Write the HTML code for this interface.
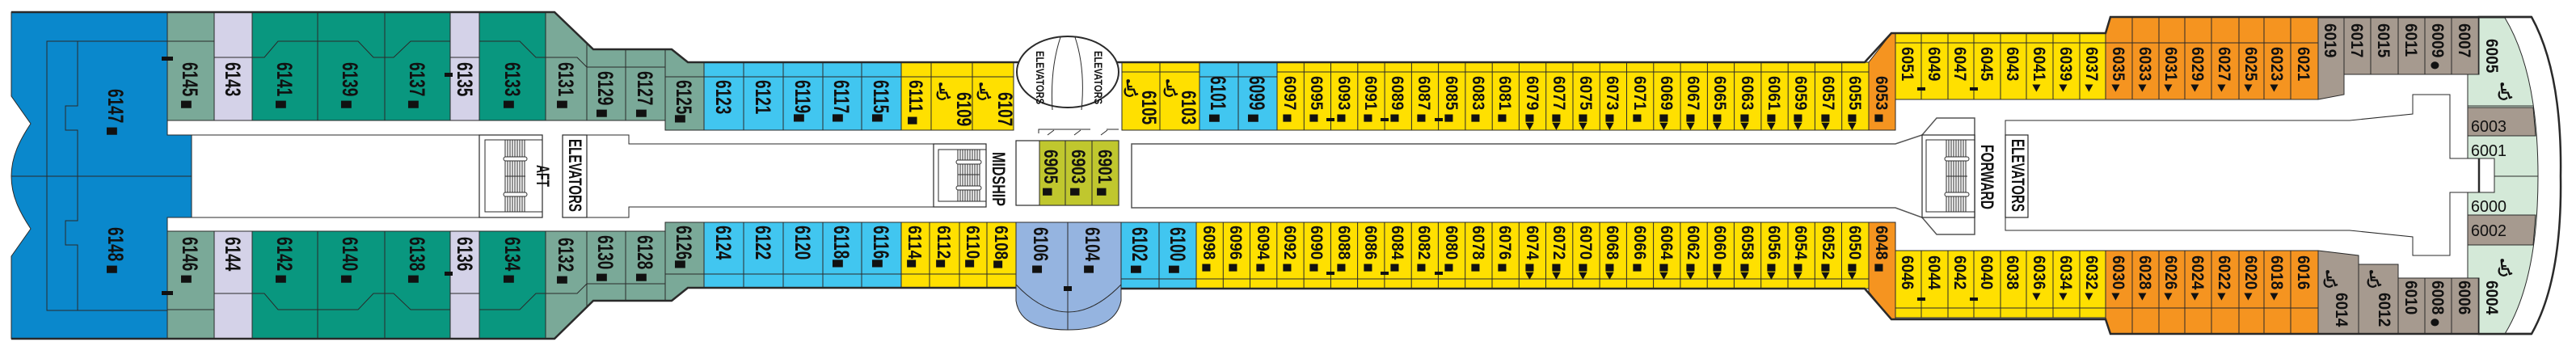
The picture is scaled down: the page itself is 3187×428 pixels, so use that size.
<!DOCTYPE html>
<html><head><meta charset="utf-8"><style>
html,body{margin:0;padding:0;background:#fff;}
svg{display:block}
.c rect,.c polygon,.c path{stroke:#2a2a2a;stroke-width:1}
.bl{fill:#0a88cc}.gg{fill:#7aa998}.lv{fill:#d4d2e8}.tl{fill:#09977f}.lb{fill:#41c6f0}.ye{fill:#ffe000}.or{fill:#f59420}.gr{fill:#a69a8f}.bg{fill:#d4e9d8}.ol{fill:#c0c72e}.pu{fill:#95b4e0}
.ln{fill:none;stroke:#2a2a2a;stroke-width:1}
.hl{fill:none;stroke:#2a2a2a;stroke-width:2.5}
.wb{fill:#fff;stroke:#2a2a2a;stroke-width:1.2}
text{font-family:"Liberation Sans","DejaVu Sans",sans-serif;font-weight:bold;fill:#111}
.n{font-size:19px}
.s{font-size:12px;font-family:"DejaVu Sans",sans-serif}
.w{font-size:30px;font-family:"DejaVu Sans",sans-serif;font-weight:bold}
.h{font-size:20px;font-weight:normal}
.l{font-size:14px}
</style></head><body>
<svg width="3187" height="428" viewBox="0 0 3187 428" xmlns="http://www.w3.org/2000/svg">
<rect width="3187" height="428" fill="#fff"/>

<g class="c">
<path class="bl" d="M14,15 L207,15 L207,167 L237,167 L237,269 L207,269 L207,419 L14,419 L14,317 L38,283 C24,262 14,242 14,218 C14,194 24,174 38,153 L14,119 Z"/>
</g>
<path class="ln" d="M207,51 H58 V384 H207 M96,51 V131 H81 V161 H96 V273 H81 V303 H96 V384 M14,218 H237"/>

<g class="c">
<rect class="gg" x="207" y="15" width="58" height="134"/>
<rect class="lv" x="265" y="15" width="47" height="134"/>
<rect class="tl" x="312" y="15" width="81" height="134"/>
<rect class="tl" x="393" y="15" width="83" height="134"/>
<rect class="tl" x="476" y="15" width="81" height="134"/>
<rect class="lv" x="557" y="15" width="36" height="134"/>
<rect class="tl" x="593" y="15" width="82" height="134"/>
<polygon class="gg" points="675,15 686,15 726,53 726,149 675,149"/>
<polygon class="gg" points="726,53 734,61 774,61 774,149 726,149"/>
<rect class="gg" x="774" y="61" width="49" height="88"/>
<polygon class="gg" points="823,61 831,61 851,77 871,77 871,161 823,161"/>
<rect class="gg" x="207" y="286" width="58" height="133"/>
<rect class="lv" x="265" y="286" width="47" height="133"/>
<rect class="tl" x="312" y="286" width="81" height="133"/>
<rect class="tl" x="393" y="286" width="83" height="133"/>
<rect class="tl" x="476" y="286" width="81" height="133"/>
<rect class="lv" x="557" y="286" width="36" height="133"/>
<rect class="tl" x="593" y="286" width="82" height="133"/>
<polygon class="gg" points="675,286 726,286 726,380 686,419 675,419"/>
<polygon class="gg" points="726,286 774,286 774,372 734,372 726,380"/>
<rect class="gg" x="774" y="286" width="49" height="86"/>
<polygon class="gg" points="823,275 871,275 871,356 851,356 831,372 823,372"/>
</g>
<polyline class="ln" points="207,51 265,51 265,71 312,71 327,71 344,51 443,51 462,71 487,71 508,51 557,51 557,71 593,71 593,51 643,51 663,71 714,71 726,83 823,83"/>
<polyline class="ln" points="823,95 871,95"/>
<polyline class="ln" points="207,383 265,383 265,363 312,363 327,363 344,383 443,383 462,363 487,363 508,383 557,383 557,363 593,363 593,383 643,383 663,363 714,363 726,351 823,351"/>
<polyline class="ln" points="823,339 871,339"/>

<g class="c">
<rect class="lb" x="871" y="77" width="49" height="84"/>
<rect class="lb" x="920" y="77" width="49" height="84"/>
<rect class="lb" x="969" y="77" width="49" height="84"/>
<rect class="lb" x="1018" y="77" width="48" height="84"/>
<rect class="lb" x="1066" y="77" width="49" height="84"/>
<rect class="ye" x="1115" y="77" width="37" height="84"/>
<rect class="ye" x="1152" y="77" width="51" height="84"/>
<rect class="ye" x="1203" y="77" width="51" height="84"/>
<rect class="ye" x="1388" y="77" width="47" height="84"/>
<rect class="ye" x="1435" y="77" width="49" height="84"/>
<rect class="lb" x="1484" y="77" width="48" height="84"/>
<rect class="lb" x="1532" y="77" width="48" height="84"/>
<rect class="ye" x="1580" y="77" width="732" height="84"/>
<polygon class="or" points="2312,77 2340,41 2345,41 2345,161 2312,161"/>
<rect class="lb" x="871" y="275" width="49" height="81"/>
<rect class="lb" x="920" y="275" width="49" height="81"/>
<rect class="lb" x="969" y="275" width="49" height="81"/>
<rect class="lb" x="1018" y="275" width="48" height="81"/>
<rect class="lb" x="1066" y="275" width="49" height="81"/>
<rect class="ye" x="1115" y="275" width="35" height="81"/>
<rect class="ye" x="1150" y="275" width="37" height="81"/>
<rect class="ye" x="1187" y="275" width="34" height="81"/>
<rect class="ye" x="1221" y="275" width="36" height="81"/>
<path class="pu" d="M1257,275 H1387 V372 Q1380,408 1321,408 Q1262,408 1257,372 Z"/>
<rect class="lb" x="1387" y="275" width="47" height="82"/>
<rect class="lb" x="1434" y="275" width="46" height="82"/>
<rect class="ye" x="1480" y="275" width="832" height="82"/>
<polygon class="or" points="2312,275 2345,275 2345,395 2340,395 2312,361"/>
<rect class="ye" x="2345" y="41" width="260" height="82"/>
<polygon class="or" points="2605,41 2611,21 2868,21 2868,123 2605,123"/>
<polygon class="gr" points="2868,22 2900,22 2900,117 2868,123"/>
<rect class="gr" x="2900" y="22" width="167" height="70"/>
<rect class="ye" x="2345" y="310" width="260" height="83"/>
<polygon class="or" points="2605,310 2868,310 2868,413 2611,413 2605,393"/>
<polygon class="gr" points="2868,310 2918,316 2918,413 2868,413"/>
<rect class="gr" x="2918" y="327" width="49" height="86"/>
<rect class="gr" x="2967" y="344" width="100" height="69"/>
</g>
<path class="ln" d="M871,95 H1254 M1388,89 H1484 M1484,95 H1580 M1580,89 H2312
M871,339 H1257 M1387,345 H1480 M1480,345 H2312
M1321,275 V408 M1257,352 Q1321,420 1387,352
M1613.3,77V161 M1646.5,77V161 M1679.8,77V161 M1713.1,77V161 M1746.4,77V161 M1779.6,77V161 M1812.9,77V161 M1846.2,77V161 M1879.4,77V161 M1912.7,77V161 M1946,77V161 M1979.3,77V161 M2012.5,77V161 M2045.8,77V161 M2079.1,77V161 M2112.4,77V161 M2145.6,77V161 M2178.9,77V161 M2212.2,77V161 M2245.4,77V161 M2278.7,77V161
M1513.3,275V357 M1546.5,275V357 M1579.8,275V357 M1613.1,275V357 M1646.4,275V357 M1679.6,275V357 M1712.9,275V357 M1746.2,275V357 M1779.4,275V357 M1812.7,275V357 M1846,275V357 M1879.3,275V357 M1912.5,275V357 M1945.8,275V357 M1979.1,275V357 M2012.4,275V357 M2045.6,275V357 M2078.9,275V357 M2112.2,275V357 M2145.4,275V357 M2178.7,275V357 M2212,275V357 M2245.3,275V357 M2278.5,275V357
M2377,41V123 M2410,41V123 M2442,41V123 M2475,41V123 M2507,41V123 M2540,41V123 M2573,41V123 M2345,53H2868
M2638,21V123 M2671,21V123 M2703,21V123 M2736,21V123 M2770,21V123 M2801,21V123 M2834,21V123
M2933,22V92 M2967,22V92 M3000,22V92 M3033,22V92
M2377,310V393 M2410,310V393 M2442,310V393 M2475,310V393 M2507,310V393 M2540,310V393 M2573,310V393 M2345,381H2868
M2638,310V413 M2671,310V413 M2703,310V413 M2736,310V413 M2770,310V413 M2801,310V413 M2834,310V413
M3000,344V413 M3033,344V413"/>

<path d="M3067,21 L3132,21 Q3170,90 3168,218 Q3170,346 3132,413 L3067,413 Z" fill="#fff" stroke="#2a2a2a" stroke-width="2.5"/>
<g class="c">
<path class="bg" d="M3067,22 L3099,22 Q3140,90 3140,218 Q3140,346 3099,413 L3067,413 L3067,344 L3053,344 L3053,238 L3086,238 L3086,196 L3053,196 L3053,92 L3067,92 Z"/>
<polygon class="gr" points="3053,133 3134,133 3137,168 3053,168"/>
<polygon class="gr" points="3053,266 3137,266 3134,303 3053,303"/>
</g>
<path class="ln" d="M3053,131 H3134 M3086,218 H3140"/>

<polyline class="hl" points="14,15 686,15 734,61 831,61 851,77 1262,77"/>
<polyline class="hl" points="1380,77 2307,77 2340,41 2605,41 2611,21 3132,21"/>
<polyline class="hl" points="14,419 686,419 734,372 831,372 851,356 1257,356"/>
<polyline class="hl" points="1387,357 2307,357 2340,395 2605,395 2611,413 3132,413"/>

<ellipse cx="1321" cy="89" rx="63" ry="44" fill="#fff" stroke="#2a2a2a" stroke-width="2"/>
<path class="ln" stroke-width="1.8" d="M1312,46 Q1299,85 1302,136 M1330,46 Q1343,85 1338,136"/>
<text class="l" style="font-size:10px" transform="translate(1282,63) rotate(90) scale(1,1.4)" textLength="66" lengthAdjust="spacingAndGlyphs">ELEVATORS</text>
<text class="l" style="font-size:10px" transform="translate(1354,63) rotate(90) scale(1,1.4)" textLength="66" lengthAdjust="spacingAndGlyphs">ELEVATORS</text>

<path class="ln" stroke-width="1.3" d="M237,167 H593 M237,269 H593 M726,167 H778 V178 H1155 M726,269 H778 V256 H1155"/>
<rect class="wb" x="593" y="167" width="78" height="102"/>
<path class="ln" d="M671,173 H600 V262 H671"/>
<rect class="wb" x="696" y="167" width="30" height="102"/>
<rect class="wb" x="1155" y="178" width="65" height="78"/>
<path class="ln" d="M1220,185 H1161 V249 H1220"/>
<rect class="wb" x="1257" y="174" width="127" height="80"/>
<g class="c"><rect class="ol" x="1286" y="174" width="98" height="80"/></g>
<path class="ln" d="M1318,174V254 M1351,174V254 M1285,165 V160 H1349 M1369,160 H1384"/>
<path class="ln" stroke-width="2.5" d="M1296,167 l8,-6 M1329,167 l8,-6 M1362,167 l8,-6"/>
<path fill="#fff" stroke="#555" stroke-width="1.5" d="M1400,178 H2345 L2378,167 L2396,146 H2443 V290 H2396 L2378,269 L2345,257 H1400 Z"/>
<rect class="wb" x="2378" y="167" width="65" height="102"/>
<path class="ln" d="M2443,173 H2383 V262 H2443"/>
<path class="ln" stroke-width="1.3" d="M2481,149 H2907 L2985,141 V117 H3031 V196 H3086 V238 H3031 V316 H2985 V293 L2907,285 H2481 Z"/>
<rect class="wb" x="2481" y="167" width="28" height="102"/>
<path class="ln" stroke-width="0.8" d="M625,173V262 M628,173V262 M631,173V262 M634,173V262 M637,173V262 M640,173V262 M643,173V262 M646,173V262 M649,173V262 M625,218H650
M1185,185V249 M1188,185V249 M1191,185V249 M1194,185V249 M1197,185V249 M1200,185V249 M1203,185V249 M1206,185V249 M1209,185V249 M1212,185V249 M1185,216H1212
M2408,173V262 M2411,173V262 M2414,173V262 M2417,173V262 M2420,173V262 M2423,173V262 M2426,173V262 M2429,173V262 M2432,173V262 M2408,218H2434"/>
<g fill="#fff" stroke="#2a2a2a" stroke-width="1">
<rect x="623" y="194" width="29" height="5" rx="2.5"/><rect x="623" y="238" width="29" height="5" rx="2.5"/>
<rect x="1183" y="198" width="31" height="5" rx="2.5"/><rect x="1183" y="230" width="31" height="5" rx="2.5"/>
<rect x="2406" y="194" width="30" height="5" rx="2.5"/><rect x="2406" y="238" width="30" height="5" rx="2.5"/>
</g>
<g fill="#111">
<rect x="200" y="70" width="14" height="5"/><rect x="200" y="360" width="14" height="5"/>
<rect x="550" y="90" width="10" height="5"/><rect x="550" y="336" width="10" height="5"/>
<rect x="1641" y="146" width="10" height="4"/><rect x="1708" y="146" width="10" height="4"/><rect x="1775" y="146" width="10" height="4"/>
<rect x="1641" y="336" width="10" height="4"/><rect x="1708" y="336" width="10" height="4"/><rect x="1775" y="336" width="10" height="4"/>
<rect x="2372" y="108" width="10" height="4"/><rect x="2437" y="108" width="10" height="4"/>
<rect x="2372" y="368" width="10" height="4"/><rect x="2437" y="368" width="10" height="4"/>
<rect x="1316" y="354" width="10" height="6"/>
</g>

<text class="l" transform="translate(704,172) rotate(90) scale(1,1.6)" textLength="90" lengthAdjust="spacingAndGlyphs">ELEVATORS</text>
<text class="l" transform="translate(664,204) rotate(90) scale(1,1.6)" textLength="27" lengthAdjust="spacingAndGlyphs">AFT</text>
<text class="l" transform="translate(1228,188) rotate(90) scale(1,1.6)" textLength="67" lengthAdjust="spacingAndGlyphs">MIDSHIP</text>
<text class="l" transform="translate(2451,179) rotate(90) scale(1,1.6)" textLength="80" lengthAdjust="spacingAndGlyphs">FORWARD</text>
<text class="l" transform="translate(2489,172) rotate(90) scale(1,1.6)" textLength="90" lengthAdjust="spacingAndGlyphs">ELEVATORS</text>

<g class="n">
<text class="n" transform="translate(134,110) rotate(90) scale(1,1.4)">6147<tspan class="s"> ■</tspan></text>
<text class="n" transform="translate(134,281) rotate(90) scale(1,1.4)">6148<tspan class="s"> ■</tspan></text>
<text class="n" transform="translate(226,77) rotate(90) scale(1,1.4)">6145<tspan class="s"> ■</tspan></text>
<text class="n" transform="translate(279,77) rotate(90) scale(1,1.4)">6143</text>
<text class="n" transform="translate(343,77) rotate(90) scale(1,1.4)">6141<tspan class="s"> ■</tspan></text>
<text class="n" transform="translate(424,77) rotate(90) scale(1,1.4)">6139<tspan class="s"> ■</tspan></text>
<text class="n" transform="translate(507,77) rotate(90) scale(1,1.4)">6137<tspan class="s"> ■</tspan></text>
<text class="n" transform="translate(566,77) rotate(90) scale(1,1.4)">6135</text>
<text class="n" transform="translate(625,77) rotate(90) scale(1,1.4)">6133<tspan class="s"> ■</tspan></text>
<text class="n" transform="translate(691,77) rotate(90) scale(1,1.4)">6131<tspan class="s"> ■</tspan></text>
<text class="n" transform="translate(740,88) rotate(90) scale(1,1.4)">6129<tspan class="s"> ■</tspan></text>
<text class="n" transform="translate(789,88) rotate(90) scale(1,1.4)">6127<tspan class="s"> ■</tspan></text>
<text class="n" transform="translate(837,99) rotate(90) scale(1,1.4)">6125<tspan class="s">■</tspan></text>
<text class="n" transform="translate(226,293) rotate(90) scale(1,1.4)">6146<tspan class="s"> ■</tspan></text>
<text class="n" transform="translate(279,293) rotate(90) scale(1,1.4)">6144</text>
<text class="n" transform="translate(343,293) rotate(90) scale(1,1.4)">6142<tspan class="s"> ■</tspan></text>
<text class="n" transform="translate(424,293) rotate(90) scale(1,1.4)">6140<tspan class="s"> ■</tspan></text>
<text class="n" transform="translate(507,293) rotate(90) scale(1,1.4)">6138<tspan class="s"> ■</tspan></text>
<text class="n" transform="translate(566,293) rotate(90) scale(1,1.4)">6136</text>
<text class="n" transform="translate(625,293) rotate(90) scale(1,1.4)">6134<tspan class="s"> ■</tspan></text>
<text class="n" transform="translate(691,294) rotate(90) scale(1,1.4)">6132<tspan class="s"> ■</tspan></text>
<text class="n" transform="translate(740,291) rotate(90) scale(1,1.4)">6130<tspan class="s"> ■</tspan></text>
<text class="n" transform="translate(789,291) rotate(90) scale(1,1.4)">6128<tspan class="s"> ■</tspan></text>
<text class="n" transform="translate(837,279) rotate(90) scale(1,1.4)">6126<tspan class="s">■</tspan></text>

<text class="n" transform="translate(886,99) rotate(90) scale(1,1.4)">6123</text>
<text class="n" transform="translate(935,99) rotate(90) scale(1,1.4)">6121</text>
<text class="n" transform="translate(984,99) rotate(90) scale(1,1.4)">6119<tspan class="s">■</tspan></text>
<text class="n" transform="translate(1032,99) rotate(90) scale(1,1.4)">6117<tspan class="s">■</tspan></text>
<text class="n" transform="translate(1081,99) rotate(90) scale(1,1.4)">6115<tspan class="s">■</tspan></text>
<text class="n" transform="translate(1125,99) rotate(90) scale(1,1.25)">6111<tspan class="s"> ■</tspan></text>
<text class="n" transform="translate(1184,114) rotate(90) scale(1,1.3)">6109</text>
<text class="n" transform="translate(1235,114) rotate(90) scale(1,1.3)">6107</text>
<text class="n" transform="translate(1413,112) rotate(90) scale(1,1.3)">6105</text>
<text class="n" transform="translate(1462,112) rotate(90) scale(1,1.3)">6103</text>
<text class="n" transform="translate(1498,94) rotate(90) scale(1,1.4)">6101<tspan class="s"> ■</tspan></text>
<text class="n" transform="translate(1546,94) rotate(90) scale(1,1.4)">6099<tspan class="s"> ■</tspan></text>

<text class="n" transform="translate(886,279) rotate(90) scale(1,1.4)">6124</text>
<text class="n" transform="translate(935,279) rotate(90) scale(1,1.4)">6122</text>
<text class="n" transform="translate(984,279) rotate(90) scale(1,1.4)">6120</text>
<text class="n" transform="translate(1032,279) rotate(90) scale(1,1.4)">6118<tspan class="s">■</tspan></text>
<text class="n" transform="translate(1081,279) rotate(90) scale(1,1.4)">6116<tspan class="s">■</tspan></text>
<text class="n" transform="translate(1124,279) rotate(90) scale(1,1.2)">6114<tspan class="s">■</tspan></text>
<text class="n" transform="translate(1160,279) rotate(90) scale(1,1.2)">6112<tspan class="s">■</tspan></text>
<text class="n" transform="translate(1196,279) rotate(90) scale(1,1.2)">6110<tspan class="s">■</tspan></text>
<text class="n" transform="translate(1231,279) rotate(90) scale(1,1.2)">6108<tspan class="s">■</tspan></text>
<text class="n" transform="translate(1279,281) rotate(90) scale(1,1.3)">6106<tspan class="s"> ■</tspan></text>
<text class="n" transform="translate(1343,281) rotate(90) scale(1,1.3)">6104<tspan class="s"> ■</tspan></text>
<text class="n" transform="translate(1401,281) rotate(90) scale(1,1.4)">6102<tspan class="s"> ■</tspan></text>
<text class="n" transform="translate(1448,281) rotate(90) scale(1,1.4)">6100<tspan class="s"> ■</tspan></text>

<text class="n" transform="translate(1292,185) rotate(90) scale(1,1.25)">6905<tspan class="s"> ■</tspan></text>
<text class="n" transform="translate(1326,185) rotate(90) scale(1,1.25)">6903<tspan class="s"> ■</tspan></text>
<text class="n" transform="translate(1359,185) rotate(90) scale(1,1.25)">6901<tspan class="s"> ■</tspan></text>
</g>

<text class="n" transform="translate(1589,94) rotate(90) scale(1,1.1)">6097<tspan class="s"> ■</tspan></text>
<text class="n" transform="translate(1622,94) rotate(90) scale(1,1.1)">6095<tspan class="s"> ■</tspan></text>
<text class="n" transform="translate(1656,94) rotate(90) scale(1,1.1)">6093<tspan class="s"> ■</tspan></text>
<text class="n" transform="translate(1689,94) rotate(90) scale(1,1.1)">6091<tspan class="s"> ■</tspan></text>
<text class="n" transform="translate(1722,94) rotate(90) scale(1,1.1)">6089<tspan class="s"> ■</tspan></text>
<text class="n" transform="translate(1755,94) rotate(90) scale(1,1.1)">6087<tspan class="s"> ■</tspan></text>
<text class="n" transform="translate(1789,94) rotate(90) scale(1,1.1)">6085<tspan class="s"> ■</tspan></text>
<text class="n" transform="translate(1822,94) rotate(90) scale(1,1.1)">6083<tspan class="s"> ■</tspan></text>
<text class="n" transform="translate(1855,94) rotate(90) scale(1,1.1)">6081<tspan class="s"> ■</tspan></text>
<text class="n" transform="translate(1889,94) rotate(90) scale(1,1.1)">6079<tspan class="s"> ■▶</tspan></text>
<text class="n" transform="translate(1922,94) rotate(90) scale(1,1.1)">6077<tspan class="s"> ■▶</tspan></text>
<text class="n" transform="translate(1955,94) rotate(90) scale(1,1.1)">6075<tspan class="s"> ■▶</tspan></text>
<text class="n" transform="translate(1988,94) rotate(90) scale(1,1.1)">6073<tspan class="s"> ■▶</tspan></text>
<text class="n" transform="translate(2022,94) rotate(90) scale(1,1.1)">6071<tspan class="s"> ■</tspan></text>
<text class="n" transform="translate(2055,94) rotate(90) scale(1,1.1)">6069<tspan class="s"> ■▶</tspan></text>
<text class="n" transform="translate(2088,94) rotate(90) scale(1,1.1)">6067<tspan class="s"> ■▶</tspan></text>
<text class="n" transform="translate(2121,94) rotate(90) scale(1,1.1)">6065<tspan class="s"> ■▶</tspan></text>
<text class="n" transform="translate(2155,94) rotate(90) scale(1,1.1)">6063<tspan class="s"> ■▶</tspan></text>
<text class="n" transform="translate(2188,94) rotate(90) scale(1,1.1)">6061<tspan class="s"> ■▶</tspan></text>
<text class="n" transform="translate(2221,94) rotate(90) scale(1,1.1)">6059<tspan class="s"> ■▶</tspan></text>
<text class="n" transform="translate(2255,94) rotate(90) scale(1,1.1)">6057<tspan class="s"> ■▶</tspan></text>
<text class="n" transform="translate(2288,94) rotate(90) scale(1,1.1)">6055<tspan class="s"> ■▶</tspan></text>
<text class="n" transform="translate(2321,94) rotate(90) scale(1,1.1)">6053<tspan class="s"> ■</tspan></text>
<text class="n" transform="translate(1489,279) rotate(90) scale(1,1.1)">6098<tspan class="s"> ■</tspan></text>
<text class="n" transform="translate(1522,279) rotate(90) scale(1,1.1)">6096<tspan class="s"> ■</tspan></text>
<text class="n" transform="translate(1556,279) rotate(90) scale(1,1.1)">6094<tspan class="s"> ■</tspan></text>
<text class="n" transform="translate(1589,279) rotate(90) scale(1,1.1)">6092<tspan class="s"> ■</tspan></text>
<text class="n" transform="translate(1622,279) rotate(90) scale(1,1.1)">6090<tspan class="s"> ■</tspan></text>
<text class="n" transform="translate(1656,279) rotate(90) scale(1,1.1)">6088<tspan class="s"> ■</tspan></text>
<text class="n" transform="translate(1689,279) rotate(90) scale(1,1.1)">6086<tspan class="s"> ■</tspan></text>
<text class="n" transform="translate(1722,279) rotate(90) scale(1,1.1)">6084<tspan class="s"> ■</tspan></text>
<text class="n" transform="translate(1755,279) rotate(90) scale(1,1.1)">6082<tspan class="s"> ■</tspan></text>
<text class="n" transform="translate(1789,279) rotate(90) scale(1,1.1)">6080<tspan class="s"> ■</tspan></text>
<text class="n" transform="translate(1822,279) rotate(90) scale(1,1.1)">6078<tspan class="s"> ■</tspan></text>
<text class="n" transform="translate(1855,279) rotate(90) scale(1,1.1)">6076<tspan class="s"> ■</tspan></text>
<text class="n" transform="translate(1889,279) rotate(90) scale(1,1.1)">6074<tspan class="s"> ■▶</tspan></text>
<text class="n" transform="translate(1922,279) rotate(90) scale(1,1.1)">6072<tspan class="s"> ■▶</tspan></text>
<text class="n" transform="translate(1955,279) rotate(90) scale(1,1.1)">6070<tspan class="s"> ■▶</tspan></text>
<text class="n" transform="translate(1988,279) rotate(90) scale(1,1.1)">6068<tspan class="s"> ■▶</tspan></text>
<text class="n" transform="translate(2022,279) rotate(90) scale(1,1.1)">6066<tspan class="s"> ■</tspan></text>
<text class="n" transform="translate(2055,279) rotate(90) scale(1,1.1)">6064<tspan class="s"> ■▶</tspan></text>
<text class="n" transform="translate(2088,279) rotate(90) scale(1,1.1)">6062<tspan class="s"> ■▶</tspan></text>
<text class="n" transform="translate(2121,279) rotate(90) scale(1,1.1)">6060<tspan class="s"> ■▶</tspan></text>
<text class="n" transform="translate(2155,279) rotate(90) scale(1,1.1)">6058<tspan class="s"> ■▶</tspan></text>
<text class="n" transform="translate(2188,279) rotate(90) scale(1,1.1)">6056<tspan class="s"> ■▶</tspan></text>
<text class="n" transform="translate(2221,279) rotate(90) scale(1,1.1)">6054<tspan class="s"> ■▶</tspan></text>
<text class="n" transform="translate(2255,279) rotate(90) scale(1,1.1)">6052<tspan class="s"> ■▶</tspan></text>
<text class="n" transform="translate(2288,279) rotate(90) scale(1,1.1)">6050<tspan class="s"> ■▶</tspan></text>
<text class="n" transform="translate(2321,279) rotate(90) scale(1,1.1)">6048<tspan class="s"> ■</tspan></text>

<text class="n" transform="translate(2353,58) rotate(90) scale(1,1.1)">6051</text>
<text class="n" transform="translate(2386,58) rotate(90) scale(1,1.1)">6049</text>
<text class="n" transform="translate(2418,58) rotate(90) scale(1,1.1)">6047</text>
<text class="n" transform="translate(2451,58) rotate(90) scale(1,1.1)">6045</text>
<text class="n" transform="translate(2483,58) rotate(90) scale(1,1.1)">6043</text>
<text class="n" transform="translate(2516,58) rotate(90) scale(1,1.1)">6041<tspan class="s"> ▶</tspan></text>
<text class="n" transform="translate(2549,58) rotate(90) scale(1,1.1)">6039<tspan class="s"> ▶</tspan></text>
<text class="n" transform="translate(2581,58) rotate(90) scale(1,1.1)">6037<tspan class="s"> ▶</tspan></text>
<text class="n" transform="translate(2614,58) rotate(90) scale(1,1.1)">6035<tspan class="s"> ▶</tspan></text>
<text class="n" transform="translate(2647,58) rotate(90) scale(1,1.1)">6033<tspan class="s"> ▶</tspan></text>
<text class="n" transform="translate(2679,58) rotate(90) scale(1,1.1)">6031<tspan class="s"> ▶</tspan></text>
<text class="n" transform="translate(2712,58) rotate(90) scale(1,1.1)">6029<tspan class="s"> ▶</tspan></text>
<text class="n" transform="translate(2745,58) rotate(90) scale(1,1.1)">6027<tspan class="s"> ▶</tspan></text>
<text class="n" transform="translate(2778,58) rotate(90) scale(1,1.1)">6025<tspan class="s"> ▶</tspan></text>
<text class="n" transform="translate(2810,58) rotate(90) scale(1,1.1)">6023<tspan class="s"> ▶</tspan></text>
<text class="n" transform="translate(2843,58) rotate(90) scale(1,1.1)">6021</text>
<text class="n" transform="translate(2876,29) rotate(90) scale(1,1.1)">6019</text>
<text class="n" transform="translate(2909,29) rotate(90) scale(1,1.1)">6017</text>
<text class="n" transform="translate(2942,29) rotate(90) scale(1,1.1)">6015</text>
<text class="n" transform="translate(2976,29) rotate(90) scale(1,1.1)">6011</text>
<text class="n" transform="translate(3009,29) rotate(90) scale(1,1.1)">6009<tspan class="s"> ●</tspan></text>
<text class="n" transform="translate(3042,29) rotate(90) scale(1,1.1)">6007</text>
<text class="n" transform="translate(2353,316) rotate(90) scale(1,1.1)">6046</text>
<text class="n" transform="translate(2386,316) rotate(90) scale(1,1.1)">6044</text>
<text class="n" transform="translate(2418,316) rotate(90) scale(1,1.1)">6042</text>
<text class="n" transform="translate(2451,316) rotate(90) scale(1,1.1)">6040</text>
<text class="n" transform="translate(2483,316) rotate(90) scale(1,1.1)">6038</text>
<text class="n" transform="translate(2516,316) rotate(90) scale(1,1.1)">6036<tspan class="s"> ▶</tspan></text>
<text class="n" transform="translate(2549,316) rotate(90) scale(1,1.1)">6034<tspan class="s"> ▶</tspan></text>
<text class="n" transform="translate(2581,316) rotate(90) scale(1,1.1)">6032<tspan class="s"> ▶</tspan></text>
<text class="n" transform="translate(2614,316) rotate(90) scale(1,1.1)">6030<tspan class="s"> ▶</tspan></text>
<text class="n" transform="translate(2647,316) rotate(90) scale(1,1.1)">6028<tspan class="s"> ▶</tspan></text>
<text class="n" transform="translate(2679,316) rotate(90) scale(1,1.1)">6026<tspan class="s"> ▶</tspan></text>
<text class="n" transform="translate(2712,316) rotate(90) scale(1,1.1)">6024<tspan class="s"> ▶</tspan></text>
<text class="n" transform="translate(2745,316) rotate(90) scale(1,1.1)">6022<tspan class="s"> ▶</tspan></text>
<text class="n" transform="translate(2778,316) rotate(90) scale(1,1.1)">6020<tspan class="s"> ▶</tspan></text>
<text class="n" transform="translate(2810,316) rotate(90) scale(1,1.1)">6018<tspan class="s"> ▶</tspan></text>
<text class="n" transform="translate(2843,316) rotate(90) scale(1,1.1)">6016</text>
<text class="n" transform="translate(2890,362) rotate(90) scale(1,1.1)">6014</text>
<text class="n" transform="translate(2943,362) rotate(90) scale(1,1.1)">6012</text>
<text class="n" transform="translate(2976,347) rotate(90) scale(1,1.1)">6010</text>
<text class="n" transform="translate(3009,347) rotate(90) scale(1,1.1)">6008<tspan class="s"> ●</tspan></text>
<text class="n" transform="translate(3042,347) rotate(90) scale(1,1.1)">6006</text>
<text class="n" transform="translate(3076,48) rotate(90) scale(1,1.1)">6005</text>
<text class="n" transform="translate(3076,347) rotate(90) scale(1,1.1)">6004</text>
<text class="h" x="3057" y="163" textLength="44" lengthAdjust="spacingAndGlyphs">6003</text>
<text class="h" x="3057" y="193" textLength="44" lengthAdjust="spacingAndGlyphs">6001</text>
<text class="h" x="3057" y="262" textLength="44" lengthAdjust="spacingAndGlyphs">6000</text>
<text class="h" x="3057" y="292" textLength="44" lengthAdjust="spacingAndGlyphs">6002</text>

<text class="w" x="1154" y="124">♿</text>
<text class="w" x="1204" y="124">♿</text>
<text class="w" x="1386" y="120">♿</text>
<text class="w" x="1435" y="120">♿</text>
<text class="w" x="2870" y="356">♿</text>
<text class="w" x="2924" y="356">♿</text>
<text class="w" x="3086" y="124">♿</text>
<text class="w" x="3086" y="342">♿</text>
</svg>
</body></html>
